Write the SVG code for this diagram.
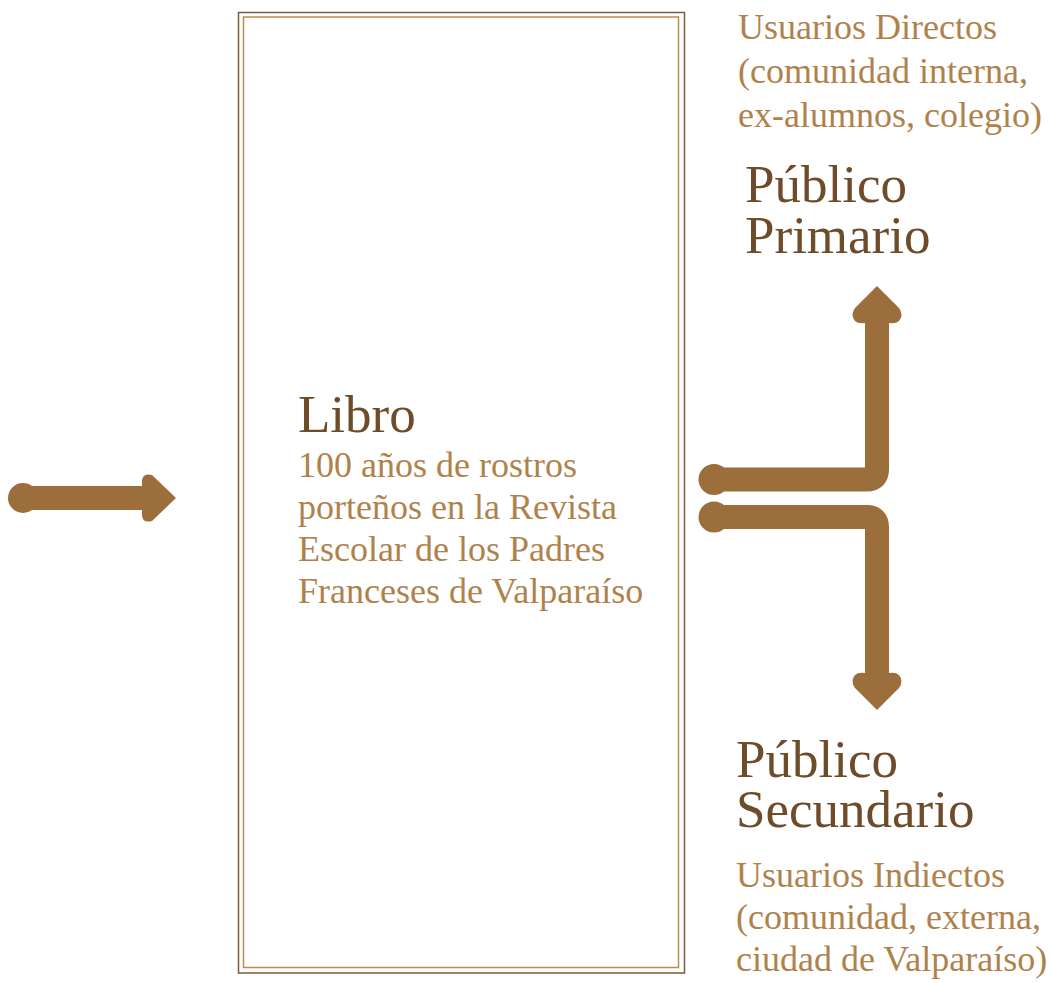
<svg xmlns="http://www.w3.org/2000/svg" width="1052" height="983" viewBox="0 0 1052 983">
<style>
text{font-family:"Liberation Serif","Times New Roman",serif}
.title{fill:#6e4b29;font-size:53px}
.sub{fill:#b0824b;font-size:36px}
.arrow{fill:#9b6e3c}
.shaft{fill:none;stroke:#9b6e3c;stroke-width:24}
</style>
<g id="book">
<rect x="238.5" y="12.5" width="446" height="960.5" fill="#fff" stroke="#7b5a3a" stroke-width="1.5"/>
<rect x="243.5" y="17" width="435" height="950.5" fill="none" stroke="#bf8a4c" stroke-width="1.5"/>
<text class="title" x="298" y="432" font-size="55">Libro</text>
<text class="sub" font-size="35.5"><tspan x="298" y="477">100 años de rostros</tspan><tspan x="298" y="519">porteños en la Revista</tspan><tspan x="298" y="561">Escolar de los Padres</tspan><tspan x="298" y="603">Franceses de Valparaíso</tspan></text>
</g>
<g id="primary">
<text class="sub" font-size="37"><tspan x="738" y="39">Usuarios Directos</tspan><tspan x="738" y="83">(comunidad interna,</tspan><tspan x="738" y="127">ex-alumnos, colegio)</tspan></text>
<text class="title"><tspan x="745" y="202">Público</tspan><tspan x="745" y="253">Primario</tspan></text>
</g>
<g id="secondary">
<text class="title"><tspan x="736" y="777">Público</tspan><tspan x="736" y="827">Secundario</tspan></text>
<text class="sub"><tspan x="736" y="887">Usuarios Indiectos</tspan><tspan x="736" y="929">(comunidad, externa,</tspan><tspan x="736" y="971">ciudad de Valparaíso)</tspan></text>
</g>
<g id="connectors">
<circle class="arrow" cx="23" cy="498" r="15"/>
<path class="shaft" d="M23,498 H150"/>
<path class="arrow" d="M142,484 Q141,472 152,475 L176,498 L152,521 Q141,524 142,512 Z"/>
<circle class="arrow" cx="714" cy="479.5" r="15.5"/>
<path class="shaft" d="M714,479.5 H867 Q877,479.5 877,469.5 V318"/>
<path class="arrow" d="M877,286 L899,308 Q904,315 899,321 Q896,324 889,323 L865,323 Q858,324 855,321 Q850,315 855,308 Z"/>
<circle class="arrow" cx="714" cy="517" r="15.5"/>
<path class="shaft" d="M714,517 H867 Q877,517 877,527 V678"/>
<path class="arrow" d="M877,710 L899,688 Q904,681 899,675 Q896,672 889,673 L865,673 Q858,672 855,675 Q850,681 855,688 Z"/>
</g>
</svg>
